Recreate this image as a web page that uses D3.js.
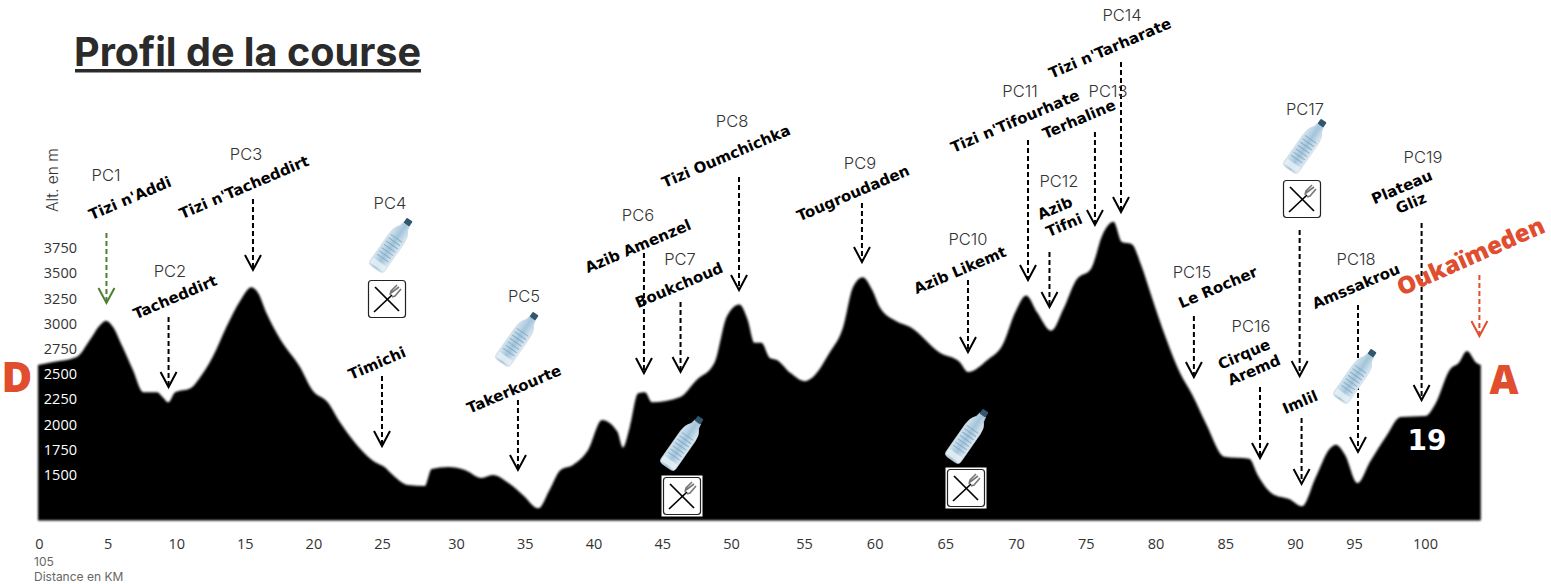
<!DOCTYPE HTML>
<html lang="fr">
	<head>
		<meta charset="UTF-8">
		<style>
			html, body { margin: 0; padding: 0; background: #fff; overflow: hidden; }
			svg { display: block; }
			text { font-family: "Open Sans", sans-serif; fill: #333; }
			.title { font-family: Inter, sans-serif; font-size: 39.6px; font-weight: 700; fill: #2b2b2b; }
			.pc { font-family: Inter, sans-serif; font-size: 16.5px; font-weight: 300; text-anchor: middle; fill: #333; }
			.name { font-family: "DejaVu Sans", sans-serif; font-size: 15px; font-weight: 700; fill: #000; text-anchor: middle; }
			.tick text { font-family: "Open Sans", sans-serif; font-size: 14.5px; fill: #333; }
			.small { font-family: Inter, sans-serif; font-size: 12px; fill: #666; }
			.big { font-weight: 800; fill: #e04e2f; text-anchor: middle; }
			.arrow { fill: none; stroke: #000; stroke-width: 2; }
		</style>
	</head>
	<body>
		<script src="https://cdn.jsdelivr.net/npm/d3@7"></script>
		<script>
			// profil : distance (km) / altitude (m)
			var profileKm = [0,1.1,2.8,3.75,4.5,4.9,5.4,6.1,6.85,7.6,8.6,9,9.4,9.9,11,11.7,12.6,13.6,14.6,15.4,15.9,16.5,17.5,18.9,19.8,20.9,21.8,22.7,24.3,25,25.6,26.7,27.9,28.4,29.6,30.8,32,32.8,34.05,35,36.1,36.9,37.7,38.6,39.7,40.7,41.8,42.2,42.7,43.3,43.8,44.3,46.3,47.5,48.8,49.7,50.6,51.2,51.7,52.2,52.8,53.3,54.3,55.3,55.9,57.1,58.1,58.8,59.5,60.2,60.75,62,62.9,65.1,66.5,67.1,68.5,69.6,70.5,71.3,72.1,73.1,74,74.9,76,76.8,77.6,78.2,78.9,79.6,80.3,81.4,82.4,83.3,84.3,85.6,87.4,88,89.1,90.3,91.2,92.2,93.2,93.65,94.3,95.2,96.1,97.3,98.3,100.1,100.8,101.9,102.5,103.1,103.8,104.1];
			var profileAlt = [2590,2620,2670,2840,2990,3030,2970,2770,2540,2320,2320,2270,2220,2320,2360,2470,2670,2970,3230,3360,3300,3100,2840,2570,2340,2220,2020,1850,1630,1580,1500,1400,1390,1560,1580,1550,1470,1500,1410,1300,1170,1350,1550,1600,1750,2045,1930,1770,1975,2310,2320,2220,2270,2440,2610,3070,3190,3040,2810,2810,2660,2640,2510,2430,2470,2710,2970,3360,3460,3330,3160,3020,2970,2710,2620,2520,2640,2790,3110,3280,3110,2930,3150,3430,3550,3880,4010,3810,3790,3580,3290,2850,2510,2290,2000,1680,1660,1500,1310,1260,1190,1480,1760,1800,1700,1420,1630,1890,2075,2085,2200,2550,2610,2730,2610,2590];
			var baseAlt = 1050;

			var kmTicks = [0,5,10,15,20,25,30,35,40,45,50,55,60,65,70,75,80,85,90,95,100];
			var altTicks = [1500,1750,2000,2250,2500,2750,3000,3250,3500,3750];

			// points de passage, et les fleches : km, altitude du haut, altitude de la pointe
			var pcLabels = ["PC1","PC2","PC3","PC4","PC5","PC6","PC7","PC8","PC9","PC10","PC11","PC12","PC13","PC14","PC15","PC16","PC17","PC18","PC19"];
			var pointNames = ["Tizi n'Addi","Tacheddirt","Tizi n'Tacheddirt","Timichi","Takerkourte","Azib Amenzel","Boukchoud","Tizi Oumchichka","Tougroudaden","Azib Likemt","Tizi n'Tifourhate","Azib","Tifni","Terhaline","Tizi n'Tarharate","Le Rocher","Cirque","Aremd","Imlil","Amssakrou","Plateau","Gliz"];
			var arrowKm = [4.94,9.42,15.51,24.82,34.63,43.72,46.36,50.58,59.45,67.1,71.43,72.98,76.26,78.14,83.4,88.17,91.03,91.17,95.24,99.83,104];
			var arrowTop = [3898,3066,4235,2481,2243,3700,3214,4453,4196,3432,4820,3710,4899,5593,3076,2372,3928,2065,3185,3997,3482];
			var arrowTip = [3205,2372,3532,1787,1550,2511,2521,3333,3611,2719,3432,3165,3978,4106,2471,1668,2481,1411,1728,2243,2877];

			var width = 1551, height = 584;
			var svg = d3.select('body').append('svg').attr('width', width).attr('height', height);

			var x = d3.scaleLinear().domain([0, 104]).range([38, 1479.4]);
			var y = d3.scaleLinear().domain([1500, 3750]).range([475, 248]);
			// les etiquettes km de l'original ne sont pas regulieres
			var xTicks = d3.scaleLinear().domain([0,25,30,50,55,70,90,95,100]).range([39,382,456,731,804,1016,1295,1354,1425]);

			var defs = svg.append('defs');
			defs.append('filter').attr('id', 'soft').append('feGaussianBlur').attr('stdDeviation', 0.9);
			var grad = defs.append('linearGradient').attr('id', 'water').attr('x1', 0).attr('x2', 1);
			grad.append('stop').attr('offset', 0).attr('stop-color', '#d5e5ef');
			grad.append('stop').attr('offset', 0.5).attr('stop-color', '#a3c4da');
			grad.append('stop').attr('offset', 1).attr('stop-color', '#dfebf3');

			// le profil
			var area = d3.area()
				.x(function(d) { return x(d[0]); })
				.y0(y(baseAlt))
				.y1(function(d) { return y(d[1]); })
				.curve(d3.curveMonotoneX);
			svg.append('path')
				.datum(d3.zip(profileKm, profileAlt))
				.attr('d', area)
				.attr('fill', '#000')
				.attr('filter', 'url(#soft)');

			// axes
			var axisX = svg.append('g').attr('transform', 'translate(0,' + y(baseAlt) + ')')
				.call(d3.axisBottom(xTicks).tickValues(kmTicks).tickSize(0).tickPadding(18).tickFormat(d3.format('d')));
			axisX.select('.domain').remove();
			var axisY = svg.append('g').attr('transform', 'translate(77,0)')
				.call(d3.axisLeft(y).tickValues(altTicks).tickSize(0).tickPadding(0).tickFormat(d3.format('d')));
			axisY.select('.domain').remove();
			axisY.selectAll('text').style('fill', function(d) { return d <= 2500 ? '#fff' : '#333'; });

			svg.append('text').attr('class', 'title').attr('x', 74).attr('y', 66).text('Profil de la course');
			svg.append('rect').attr('x', 75).attr('y', 69).attr('width', 346).attr('height', 3.5).attr('fill', '#2b2b2b');

			svg.append('text').attr('transform', 'translate(58,212) rotate(-90)').style('font-family', 'Inter, sans-serif').style('font-size', '15.5px').style('font-weight', 300).text('Alt. en m');
			svg.append('text').attr('class', 'small').attr('x', 34).attr('y', 566).text('105');
			svg.append('text').attr('class', 'small').attr('x', 34).attr('y', 581).text('Distance en KM');

			// fleches pointillees
			d3.zip(arrowKm, arrowTop, arrowTip).forEach(function(a, i) {
				var color = i == 0 ? '#4c7f2e' : (i == arrowKm.length - 1 ? '#e04e2f' : '#000');
				var ax = x(a[0]), top = y(a[1]), tip = y(a[2]);
				var g = svg.append('g').attr('class', 'arrow').style('stroke', color);
				g.append('line').attr('x1', ax).attr('x2', ax).attr('y1', top).attr('y2', tip - 2).attr('stroke-dasharray', '5,3');
				g.append('path').attr('d', d3.line()([[ax - 8, tip - 15], [ax, tip], [ax + 8, tip - 15]]));
			});

			// etiquettes : position du centre dans l'image
			var pcAt = [[106,181],[170,277],[246,160],[390,209],[524,302],[638,221],[680,265],[732,127],[860,169],[968,245],[1020,97],[1059,187],[1108,97],[1122,21],[1192,278],[1251,332],[1305,115],[1356,265],[1423,163]];
			pcLabels.forEach(function(t, i) {
				svg.append('text').attr('class', 'pc').attr('x', pcAt[i][0]).attr('y', pcAt[i][1]).text(t);
			});
			var nameAt = [[132,198],[177,297],[246,187],[379,363],[516,389],[640,246],[681,285],[728,156],[855,193],[962,270],[1017,121],[1057,208],[1066,225],[1081,119],[1112,48],[1220,287],[1246,354],[1256,370],[1302,402],[1358,286],[1404,187],[1413,203]];
			pointNames.forEach(function(t, i) {
				svg.append('text').attr('class', 'name')
					.attr('transform', 'translate(' + nameAt[i][0] + ',' + (nameAt[i][1] + 5) + ') rotate(-23)')
					.text(t);
			});

			svg.append('text').attr('class', 'big').style('font-size', '24px').attr('transform', 'translate(1474,264) rotate(-24)').text('Oukaïmeden');
			svg.append('text').attr('class', 'big').style('font-size', '42px').attr('x', 17).attr('y', 392).text('D');
			svg.append('text').attr('class', 'big').style('font-size', '40px').attr('x', 1504).attr('y', 394).text('A');
			svg.append('text').attr('class', 'big').style('font-family', '"DejaVu Sans", sans-serif').style('font-weight', 700).style('font-size', '28px').style('fill', '#fff').attr('x', 1427).attr('y', 450).text('19');

			// bouteille d'eau
			function bottle(cx, cy) {
				var g = svg.append('g').attr('transform', 'translate(' + cx + ',' + cy + ') rotate(35)');
				g.append('path')
					.attr('d', 'M-3.5,-26 L3.5,-26 L4.5,-21 Q9,-16 9,-8 L9,25 Q9,29 5,29 L-5,29 Q-9,29 -9,25 L-9,-8 Q-9,-16 -4.5,-21 Z')
					.attr('fill', 'url(#water)').attr('stroke', '#ccd8e0').attr('stroke-width', 0.6);
				g.append('rect').attr('x', -3.5).attr('y', -31).attr('width', 7).attr('height', 6).attr('rx', 1).attr('fill', '#33566f');
				[-8,-4,0,4,8,12,16].forEach(function(r) {
					g.append('line').attr('x1', -7).attr('x2', 7).attr('y1', r).attr('y2', r).attr('stroke', '#6f9aba').attr('stroke-width', 1).attr('opacity', 0.65);
				});
				g.append('rect').attr('x', -8).attr('y', 21).attr('width', 16).attr('height', 6).attr('fill', '#e8f1f6').attr('opacity', 0.8);
			}
			// couverts
			function cutlery(cx, cy) {
				var g = svg.append('g').attr('transform', 'translate(' + cx + ',' + cy + ')');
				g.append('rect').attr('x', -20.5).attr('y', -20.5).attr('width', 41).attr('height', 41).attr('fill', '#fff');
				g.append('rect').attr('x', -18.5).attr('y', -18.5).attr('width', 37).attr('height', 37).attr('rx', 3).attr('fill', '#fff').attr('stroke', '#222').attr('stroke-width', 1.2);
				g.append('path').attr('d', 'M-12,-12 L12,12').attr('stroke', '#000').attr('stroke-width', 1.7);
				g.append('path').attr('d', 'M-13,13 L5,-4').attr('stroke', '#000').attr('stroke-width', 1.7);
				g.append('path').attr('d', 'M3,-4 L4,-8 L10,-14 M5,-2 L8,-3 L14,-10 M4,-6 L12,-12').attr('stroke', '#777').attr('stroke-width', 1.6).attr('fill', 'none');
			}
			[[392,245],[518,339],[683,443],[968,436],[1306,146],[1356,376]].forEach(function(p) { bottle(p[0], p[1]); });
			[[387,299],[682,496],[966,488],[1302,199]].forEach(function(p) { cutlery(p[0], p[1]); });
		</script>
	</body>
</html>
